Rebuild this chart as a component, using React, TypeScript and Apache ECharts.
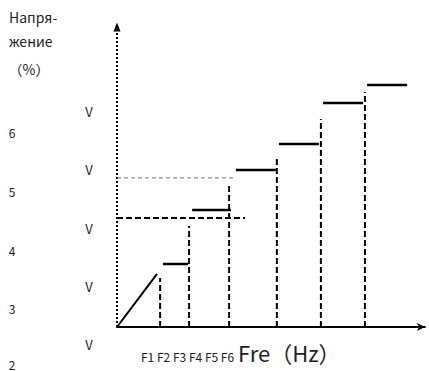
import React, { useEffect, useRef } from "react";
import * as echarts from "echarts";

// Ramp (start section) of the V/F curve
const rampX = [0, 13.0];
const rampY = [0, 17.7];

// Constant-voltage steps
const stepStart = [14.9, 24.4, 38.6, 52.6, 66.9, 81.2];
const stepEnd = [23.1, 37.0, 51.6, 65.6, 79.9, 94.2];
const stepLevel = [21.0, 39.0, 52.3, 61.0, 74.7, 80.7];

// Dashed frequency drop lines
const dropX = [14.0, 23.4, 36.4, 51.9, 66.2, 80.5];
const dropTop = [16.3, 33.7, 47.0, 56.0, 69.3, 78.3];

// Horizontal reference lines (thick dashed, thin grey dashed)
const refLevel = [36.3, 49.7];
const refEnd = [41.6, 37.7];

// Axis extent
const axisMin = 0;
const axisMax = 100;

// Texts
const yTitle = ["Напря-", "жение", "（%）"];
const yNumbers = ["6", "5", "4", "3", "2"];
const vLabels = ["V", "V", "V", "V", "V"];
const freqLabels = ["F1", "F2", "F3", "F4", "F5", "F6"];
const xTitle = "Fre（Hz）";

const FONT = '"Noto Sans CJK SC", "Noto Sans", sans-serif';

export default function App() {
  const ref = useRef<HTMLDivElement>(null);
  useEffect(() => {
    if (!ref.current) return;
    const chart = echarts.init(ref.current, null, { renderer: "svg" });
    const series: any[] = [];
    // dotted vertical axis with arrow head
    series.push({
      type: "line",
      data: [
        [axisMin, axisMin],
        {
          value: [axisMin, axisMax],
          symbol: "triangle",
          symbolSize: [7, 9],
          itemStyle: { color: "#000", borderWidth: 0 },
        },
      ],
      symbol: "none",
      showSymbol: true,
      lineStyle: { color: "#000", width: 2, type: [2, 2] },
      silent: true,
      z: 1,
    });
    series.push({
      type: "line",
      data: rampX.map((x, i) => [x, rampY[i]]),
      symbol: "none",
      lineStyle: { color: "#000", width: 2 },
      silent: true,
    });
    stepStart.forEach((s, i) => {
      series.push({
        type: "line",
        data: [
          [s, stepLevel[i]],
          [stepEnd[i], stepLevel[i]],
        ],
        symbol: "none",
        lineStyle: { color: "#000", width: 2.5 },
        silent: true,
      });
    });
    dropX.forEach((x, i) => {
      series.push({
        type: "line",
        data: [
          [x, 0],
          [x, dropTop[i]],
        ],
        symbol: "none",
        lineStyle: { color: "#000", width: 2, type: [6, 3] },
        silent: true,
      });
    });
    series.push({
      type: "line",
      data: [
        [0, refLevel[0]],
        [refEnd[0], refLevel[0]],
      ],
      symbol: "none",
      lineStyle: { color: "#000", width: 2, type: [6, 3] },
      silent: true,
    });
    series.push({
      type: "line",
      data: [
        [0, refLevel[1]],
        [refEnd[1], refLevel[1]],
      ],
      symbol: "none",
      lineStyle: { color: "#777", width: 1, type: [4, 3] },
      silent: true,
    });

    const graphics: any[] = [];
    yTitle.forEach((t, i) => {
      graphics.push({
        type: "text",
        x: i === 2 ? 29 : 9,
        y: [17, 41, 69][i],
        style: {
          text: t,
          fontSize: 14,
          fontFamily: FONT,
          fill: "#222",
          align: i === 2 ? "center" : "left",
          verticalAlign: "middle",
        },
      });
    });
    yNumbers.forEach((t, i) => {
      graphics.push({
        type: "text",
        x: 12,
        y: [132, 191, 250, 308, 364][i],
        style: {
          text: t,
          fontSize: 12,
          fontFamily: FONT,
          fill: "#222",
          align: "center",
          verticalAlign: "middle",
        },
      });
    });
    vLabels.forEach((t, i) => {
      graphics.push({
        type: "text",
        x: 89,
        y: [111, 169, 228, 286, 344][i],
        style: {
          text: t,
          fontSize: 13,
          fontFamily: FONT,
          fill: "#222",
          align: "center",
          verticalAlign: "middle",
        },
      });
    });
    graphics.push({
      type: "text",
      x: 141,
      y: 356,
      style: {
        text: freqLabels.join(" "),
        fontSize: 12,
        fontFamily: FONT,
        fill: "#222",
        verticalAlign: "middle",
      },
    });
    graphics.push({
      type: "text",
      x: 238,
      y: 352,
      style: {
        text: xTitle,
        fontSize: 22,
        fontFamily: FONT,
        fill: "#222",
        verticalAlign: "middle",
      },
    });

    chart.setOption({
      animation: false,
      grid: { left: 117, right: 4, top: 27, bottom: 44 },
      xAxis: {
        type: "value",
        min: axisMin,
        max: axisMax,
        axisLine: {
          show: true,
          symbol: ["none", "arrow"],
          symbolSize: [6, 8],
          lineStyle: { color: "#000", width: 2 },
        },
        axisTick: { show: false },
        axisLabel: { show: false },
        splitLine: { show: false },
        z: 3,
      },
      yAxis: {
        type: "value",
        min: axisMin,
        max: axisMax,
        axisLine: { show: false },
        axisTick: { show: false },
        axisLabel: { show: false },
        splitLine: { show: false },
      },
      graphic: graphics,
      series,
    });
    return () => chart.dispose();
  }, []);
  return (
    <div
      ref={ref}
      style={{ position: "absolute", left: 0, top: 0, width: 429, height: 371 }}
    />
  );
}
